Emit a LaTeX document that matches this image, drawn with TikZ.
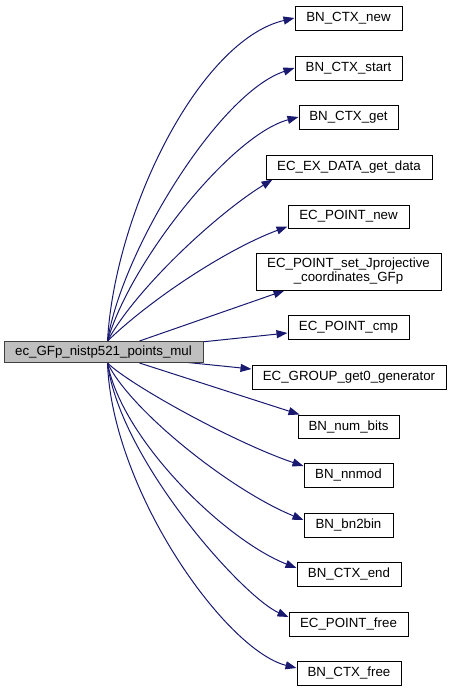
\documentclass[tikz,border=0pt]{standalone}
\usepackage{fontspec}
\setmainfont{Liberation Sans}
\usetikzlibrary{arrows.meta}
\definecolor{edgeblue}{HTML}{191970}
\definecolor{maingray}{HTML}{BFBFBF}
\definecolor{mainborder}{HTML}{404040}
\pgfdeclarelayer{background}
\pgfsetlayers{background,main}
\begin{document}
\begin{tikzpicture}[x=1pt,y=-1pt,
  box/.style={draw=black, line width=1pt, rectangle, inner sep=0pt, fill=white,
    font=\fontsize{13.3}{14}\selectfont, minimum height=24pt},
  mainbox/.style={box, fill=maingray, draw=mainborder, minimum height=21pt},
  edge/.style={draw=edgeblue, line width=1pt, -{Triangle[length=11pt,width=8pt,fill=edgeblue]}}]
\useasboundingbox (0,0) rectangle (451,691);

\node[mainbox, minimum width=199pt] (main) at (103.5,352) {ec\_GFp\_nistp521\_points\_mul};

\node[box, minimum width=107pt] (n1) at (348.5,18) {BN\_CTX\_new};
\node[box, minimum width=107pt] (n2) at (348.5,68) {BN\_CTX\_start};
\node[box, minimum width=99pt] (n3) at (348.5,117) {BN\_CTX\_get};
\node[box, minimum width=166pt] (n4) at (349,167) {EC\_EX\_DATA\_get\_data};
\node[box, minimum width=121pt, minimum height=23pt] (n5) at (348.5,216.5) {EC\_POINT\_new};
\node[box, minimum width=185pt, minimum height=37pt, align=center] (n6) at (348.5,271.5) {EC\_POINT\_set\_Jprojective\\\_coordinates\_GFp};
\node[box, minimum width=121pt] (n7) at (348.5,327) {EC\_POINT\_cmp};
\node[box, minimum width=194pt] (n8) at (349,377) {EC\_GROUP\_get0\_generator};
\node[box, minimum width=101pt, minimum height=23pt] (n9) at (348.5,426.5) {BN\_num\_bits};
\node[box, minimum width=89pt] (n10) at (348.5,475) {BN\_nnmod};
\node[box, minimum width=89pt] (n11) at (348.5,525) {BN\_bn2bin};
\node[box, minimum width=104pt] (n12) at (349,574) {BN\_CTX\_end};
\node[box, minimum width=119pt] (n13) at (348.5,624) {EC\_POINT\_free};
\node[box, minimum width=104pt] (n14) at (349,673) {BN\_CTX\_free};

\coordinate (ts) at ([xshift=104pt]main.north west);
\coordinate (bs) at ([xshift=104pt]main.south west);
\coordinate (ts2) at ([xshift=136pt]main.north west);
\coordinate (bs2) at ([xshift=136pt]main.south west);

\begin{pgfonlayer}{background}
\draw[edge] (ts) .. controls (115,210) and (200,40) .. (n1.west);
\draw[edge] (ts) .. controls (122,250) and (219,93) .. (n2.west);
\draw[edge] (ts) .. controls (130,262) and (231,135) .. (n3.west);
\draw[edge] (ts) .. controls (135,290) and (215,215) .. ([xshift=7pt]n4.south west);
\draw[edge] (ts) .. controls (150,300) and (225,250) .. ([yshift=2pt]n5.south west);
\draw[edge] (ts2) -- ([xshift=29pt]n6.south west);
\draw[edge] ([xshift=-50pt,yshift=-6pt]main.north east) -- ([yshift=-6pt]n7.west);
\draw[edge] ([xshift=-50pt,yshift=4pt]main.south east) -- ([yshift=8pt]n8.west);
\draw[edge] (bs2) -- ([xshift=2pt]n9.north west);
\draw[edge] (bs) .. controls (130,385) and (235,443) .. ([yshift=9pt]n10.west);
\draw[edge] (bs) .. controls (130,410) and (230,490) .. ([yshift=5pt]n11.west);
\draw[edge] (bs) .. controls (122,440) and (225,540) .. ([yshift=6pt]n12.west);
\draw[edge] (bs) .. controls (120,460) and (243,597) .. ([yshift=7pt]n13.west);
\draw[edge] (bs) .. controls (112,490) and (225,650) .. ([yshift=5pt]n14.west);
\end{pgfonlayer}
\end{tikzpicture}
\end{document}
